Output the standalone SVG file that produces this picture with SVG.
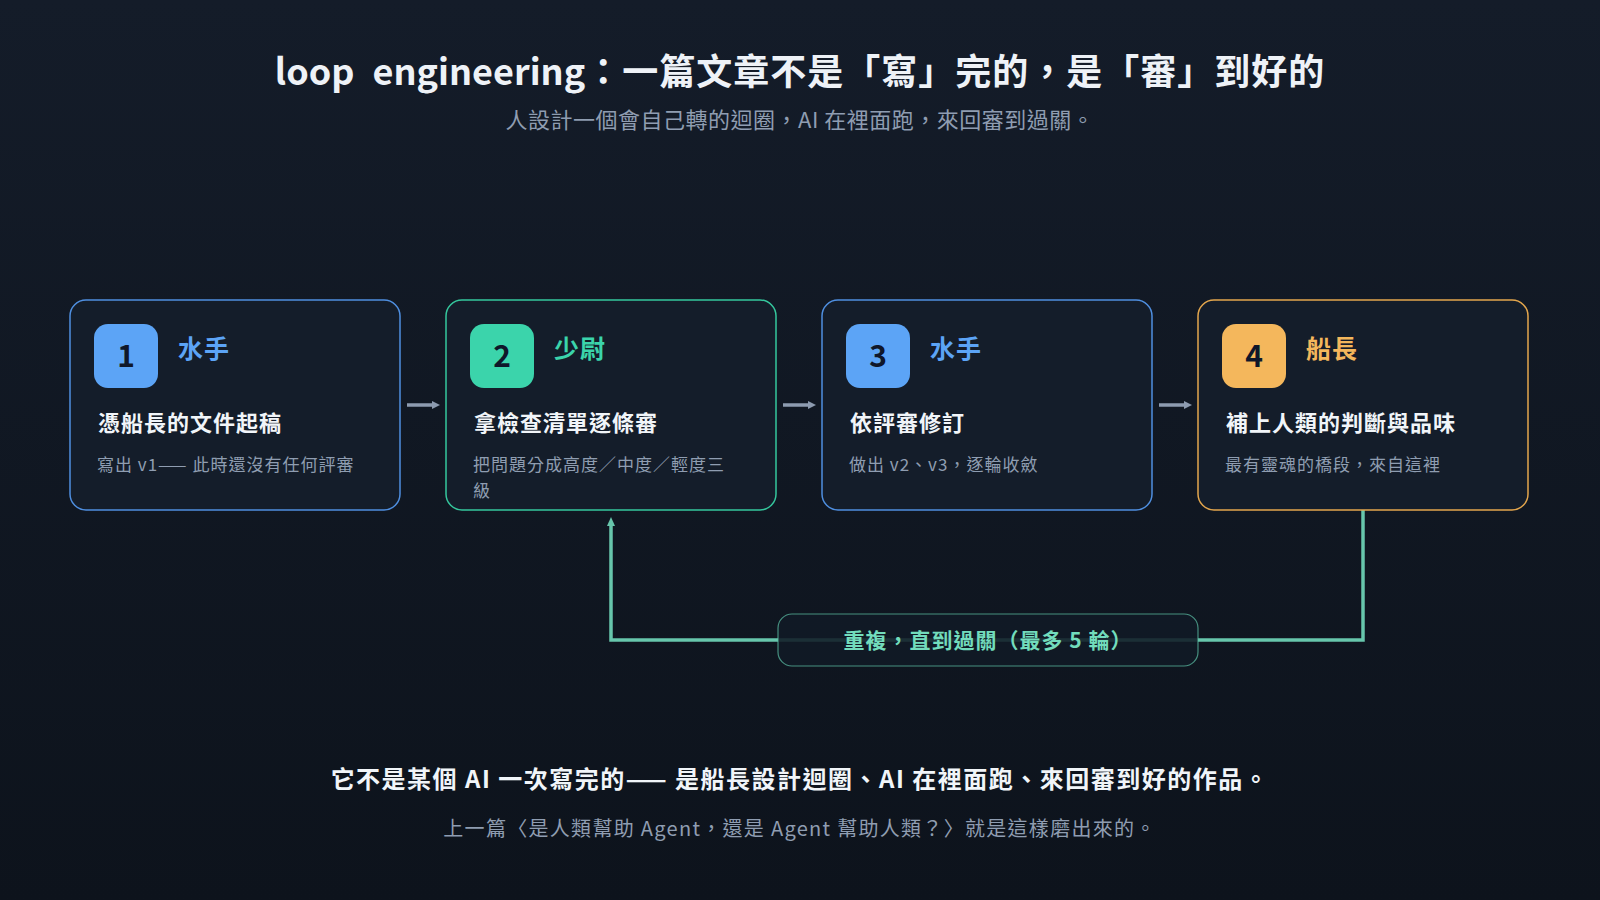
<svg xmlns="http://www.w3.org/2000/svg" width="1600" height="900" viewBox="0 0 1600 900">
  <defs>
    <linearGradient id="bg" x1="0" y1="0" x2="0" y2="1">
      <stop offset="0" stop-color="#141c29"/>
      <stop offset="1" stop-color="#0d131c"/>
    </linearGradient>
    <marker id="arrGray" markerUnits="userSpaceOnUse" markerWidth="10" markerHeight="10" refX="0" refY="4" orient="auto">
      <path d="M0,0 L8,4 L0,8 z" fill="#8d9bb0"/>
    </marker>
    <marker id="arrTeal" markerUnits="userSpaceOnUse" markerWidth="10" markerHeight="10" refX="0" refY="4" orient="auto">
      <path d="M0,0 L9,4 L0,8 z" fill="#67c6ac"/>
    </marker>
  </defs>
  <style>
    text { font-family: "Noto Sans CJK TC", "Noto Sans", sans-serif; }
    .card { fill: #141d2a; stroke-width: 1.5; }
    .badge-num { font-size: 30px; font-weight: 700; fill: #0f172a; text-anchor: middle; }
    .role { font-size: 25px; font-weight: 700; letter-spacing: 1px; }
    .ctitle { font-size: 22px; font-weight: 700; fill: #f1f5f9; letter-spacing: 1px; }
    .cdesc { font-size: 17px; fill: #8f9db1; letter-spacing: 1px; }
    .flow { stroke: #8d9bb0; stroke-width: 3.5; fill: none; }
    .loop { stroke: #67c6ac; stroke-width: 3.5; fill: none; }
    .blue { fill: #5ca4f6; }
    .green { fill: #3bd4ab; }
    .orange { fill: #f4b75c; }
  </style>

  <rect x="0" y="0" width="1600" height="900" fill="url(#bg)"/>

  <g id="header">
    <text x="800" y="85" text-anchor="middle" font-size="36" font-weight="700" fill="#eef2f7"><tspan>loop</tspan><tspan dx="10"> engineering</tspan><tspan letter-spacing="1">：一篇文章不是「寫」完的，是「審」到好的</tspan></text>
    <text x="800" y="127.5" text-anchor="middle" font-size="22" letter-spacing="0.5" fill="#8f9db1">人設計一個會自己轉的迴圈，AI 在裡面跑，來回審到過關。</text>
  </g>

  <g id="connectors">
    <line class="flow" x1="407" y1="405" x2="432" y2="405" marker-end="url(#arrGray)"/>
    <line class="flow" x1="783" y1="405" x2="808" y2="405" marker-end="url(#arrGray)"/>
    <line class="flow" x1="1159" y1="405" x2="1184" y2="405" marker-end="url(#arrGray)"/>
    <path class="loop" d="M1363,510 V640 H611 V526" marker-end="url(#arrTeal)"/>
    <g id="loop-label">
      <rect x="778" y="614" width="420" height="52" rx="14" fill="#111a25" fill-opacity="0.88" stroke="#5ec3a8" stroke-opacity="0.7" stroke-width="1.2"/>
      <text x="988" y="647.5" text-anchor="middle" font-size="21" font-weight="700" letter-spacing="1" fill="#72dcbc">重複，直到過關（最多 5 輪）</text>
    </g>
  </g>

  <g id="step1">
    <rect class="card" x="70" y="300" width="330" height="210" rx="16" stroke="#4f8fe0"/>
    <rect class="blue" x="94" y="324" width="64" height="64" rx="14"/>
    <text class="badge-num" x="126" y="367">1</text>
    <text class="role blue" x="178" y="357.5">水手</text>
    <text class="ctitle" x="98" y="430.5">憑船長的文件起稿</text>
    <text class="cdesc" x="97" y="471">寫出 v1—— 此時還沒有任何評審</text>
  </g>

  <g id="step2">
    <rect class="card" x="446" y="300" width="330" height="210" rx="16" stroke="#35c79d"/>
    <rect class="green" x="470" y="324" width="64" height="64" rx="14"/>
    <text class="badge-num" x="502" y="367">2</text>
    <text class="role green" x="554" y="357.5">少尉</text>
    <text class="ctitle" x="474" y="430.5">拿檢查清單逐條審</text>
    <text class="cdesc" x="473" y="471">把問題分成高度／中度／輕度三</text>
    <text class="cdesc" x="473" y="497">級</text>
  </g>

  <g id="step3">
    <rect class="card" x="822" y="300" width="330" height="210" rx="16" stroke="#4f8fe0"/>
    <rect class="blue" x="846" y="324" width="64" height="64" rx="14"/>
    <text class="badge-num" x="878" y="367">3</text>
    <text class="role blue" x="930" y="357.5">水手</text>
    <text class="ctitle" x="850" y="430.5">依評審修訂</text>
    <text class="cdesc" x="849" y="471">做出 v2、v3，逐輪收斂</text>
  </g>

  <g id="step4">
    <rect class="card" x="1198" y="300" width="330" height="210" rx="16" stroke="#e3a64d"/>
    <rect class="orange" x="1222" y="324" width="64" height="64" rx="14"/>
    <text class="badge-num" x="1254" y="367">4</text>
    <text class="role orange" x="1306" y="357.5">船長</text>
    <text class="ctitle" x="1226" y="430.5">補上人類的判斷與品味</text>
    <text class="cdesc" x="1225" y="471">最有靈魂的橋段，來自這裡</text>
  </g>

  <g id="footer">
    <text x="800" y="787.5" text-anchor="middle" font-size="24" font-weight="700" letter-spacing="1.5" fill="#f1f5f9">它不是某個 AI 一次寫完的—— 是船長設計迴圈、AI 在裡面跑、來回審到好的作品。</text>
    <text x="800" y="835.5" text-anchor="middle" font-size="20" letter-spacing="1.3" fill="#8f9db1">上一篇〈是人類幫助 Agent，還是 Agent 幫助人類？〉就是這樣磨出來的。</text>
  </g>
</svg>
